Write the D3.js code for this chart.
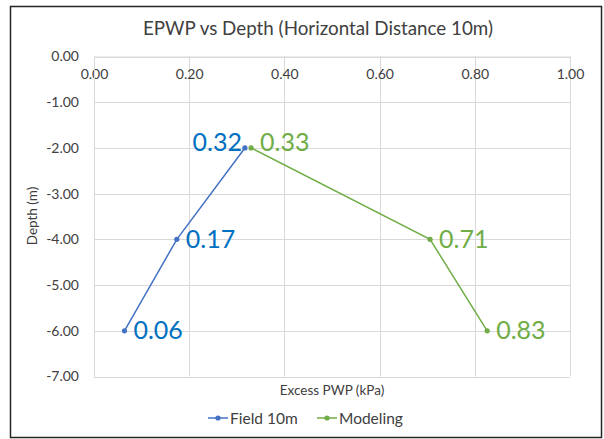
<!DOCTYPE html>
<html>
<head>
<meta charset="utf-8">
<script src="https://cdn.jsdelivr.net/npm/d3@7"></script>
<style>
  body { margin: 0; background: #fff; }
  text { font-family: Lato, "Open Sans", sans-serif; }
</style>
</head>
<body>
<svg id="chart" width="604" height="439"></svg>
<script>
// values
var depths = [-6, -4, -2];
var fieldEpwp = [0.064, 0.174, 0.317];
var modelEpwp = [0.826, 0.706, 0.33];
var seriesNames = ['Field 10m', 'Modeling'];
var xTicks = [0, 0.2, 0.4, 0.6, 0.8, 1.0];
var yTicks = [0, -1, -2, -3, -4, -5, -6, -7];

var svg = d3.select('#chart');
// plain hyphen for negatives, like the original
var fmt = d3.formatLocale({decimal: '.', thousands: ',', grouping: [3], currency: ['', ''], minus: '-'}).format('.2f');

var x = d3.scaleLinear().domain([0, 1]).range([94, 570]);
var y = d3.scaleLinear().domain([0, -7]).range([56.5, 376.5]);

// outer frame
svg.append('rect')
	.attr('x', 10.5).attr('y', 6.5)
	.attr('width', 591).attr('height', 431)
	.attr('fill', '#fff')
	.attr('stroke', '#262626')
	.attr('stroke-width', 1.5);

svg.append('text')
	.attr('x', 318).attr('y', 35)
	.attr('text-anchor', 'middle')
	.attr('font-size', 18.8)
	.attr('fill', '#404040')
	.text('EPWP vs Depth (Horizontal Distance 10m)');

// grid
var grid = svg.append('g');
grid.selectAll('.hg').data(yTicks).enter().append('line')
	.attr('x1', x(0)).attr('x2', x(1))
	.attr('y1', function(d) { return Math.round(y(d)) + 0.5; })
	.attr('y2', function(d) { return Math.round(y(d)) + 0.5; })
	.attr('stroke', '#d9d9d9');
grid.selectAll('.vg').data(xTicks).enter().append('line')
	.attr('y1', y(0)).attr('y2', y(-7))
	.attr('x1', function(d) { return Math.round(x(d)) + 0.5; })
	.attr('x2', function(d) { return Math.round(x(d)) + 0.5; })
	.attr('stroke', '#d9d9d9');

// axes (x axis sits on top at depth 0)
var xAxis = d3.axisBottom(x).tickValues(xTicks).tickFormat(fmt).tickSize(0).tickPadding(13);
var gx = svg.append('g').attr('transform', 'translate(0,' + y(0) + ')').call(xAxis);
var yAxis = d3.axisLeft(y).tickValues(yTicks).tickFormat(fmt).tickSize(0).tickPadding(15);
var gy = svg.append('g').attr('transform', 'translate(' + x(0) + ',0)').call(yAxis);
[gx, gy].forEach(function(g) {
	g.select('.domain').attr('stroke', '#d9d9d9');
	g.selectAll('text').attr('font-size', 14).attr('fill', '#404040')
		.style('font-family', 'Lato, sans-serif');
});

svg.append('text')
	.attr('x', 332).attr('y', 395)
	.attr('text-anchor', 'middle')
	.attr('font-size', 13.5)
	.attr('fill', '#404040')
	.text('Excess PWP (kPa)');

svg.append('text')
	.attr('transform', 'translate(37,216) rotate(-90)')
	.attr('text-anchor', 'middle')
	.attr('font-size', 13.5)
	.attr('fill', '#404040')
	.text('Depth (m)');

var series = [
	{name: seriesNames[0], values: fieldEpwp, line: '#4472c4', label: '#0070c0', side: ['r', 'r', 'l']},
	{name: seriesNames[1], values: modelEpwp, line: '#70ad47', label: '#70ad47', side: ['r', 'r', 'r']}
];

var line = d3.line()
	.x(function(d) { return x(d[0]); })
	.y(function(d) { return y(d[1]); });

series.forEach(function(s) {
	var pts = s.values.map(function(v, i) { return [v, depths[i]]; });
	svg.append('path')
		.attr('d', line(pts))
		.attr('fill', 'none')
		.attr('stroke', s.line)
		.attr('stroke-width', 1.5);
	svg.selectAll(null).data(pts).enter().append('circle')
		.attr('cx', function(d) { return x(d[0]); })
		.attr('cy', function(d) { return y(d[1]); })
		.attr('r', 2.6)
		.attr('fill', s.line);
	svg.selectAll(null).data(pts).enter().append('text')
		.attr('x', function(d, i) { return s.side[i] == 'l' ? x(d[0]) - 3 : x(d[0]) + 9; })
		.attr('y', function(d) { return y(d[1]) + (d[1] == -2 ? 3.5 : 8.5); })
		.attr('text-anchor', function(d, i) { return s.side[i] == 'l' ? 'end' : 'start'; })
		.attr('font-size', 25)
		.attr('fill', s.label)
		.text(function(d) { return fmt(d[0]); });
});

// legend
var legX = [208, 317];
series.forEach(function(s, i) {
	var g = svg.append('g').attr('transform', 'translate(' + legX[i] + ',418)');
	g.append('line').attr('x1', 0).attr('x2', 20).attr('stroke', s.line).attr('stroke-width', 1.5);
	g.append('circle').attr('cx', 10).attr('r', 2.6).attr('fill', s.line);
	g.append('text').attr('x', 22).attr('y', 5.5)
		.attr('font-size', 15.5).attr('fill', '#404040')
		.text(s.name);
});
</script>
</body>
</html>
